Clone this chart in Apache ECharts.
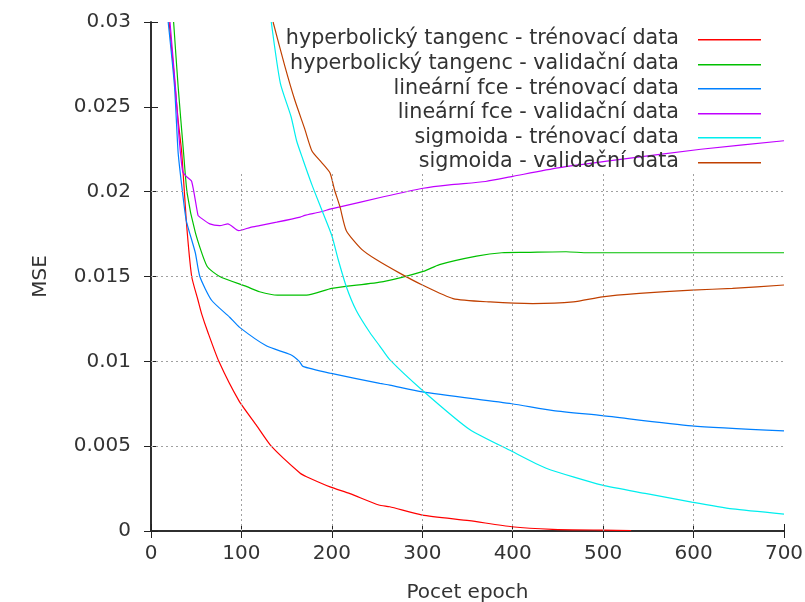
<!DOCTYPE html>
<html>
<head>
<meta charset="utf-8">
<script src="https://cdn.jsdelivr.net/npm/echarts@6/dist/echarts.min.js"></script>
<style>html,body{margin:0;padding:0;background:#fff;}#c{width:805px;height:602px;}</style>
</head>
<body>
<div id="c"></div>
<script>
// ---- data ----
const seriesNames = [
  'hyperbolický tangenc - trénovací data',
  'hyperbolický tangenc - validační data',
  'lineární fce - trénovací data',
  'lineární fce - validační data',
  'sigmoida - trénovací data',
  'sigmoida - validační data'
];
const seriesColors = ['#ff0000', '#00c000', '#0080ff', '#c000ff', '#00eeee', '#c04000'];

const xTicks = [0, 100, 200, 300, 400, 500, 600, 700];
const yTicks = [0, 0.005, 0.01, 0.015, 0.02, 0.025, 0.03];
const yTickLabels = ['0', '0.005', '0.01', '0.015', '0.02', '0.025', '0.03'];

const tanhTrainEpoch = [20,25,30,34,39,45,52,56,63,75,97,117,133,165,172,198,220,252,264,300,352,399,444,500,531];
const tanhTrainMSE   = [0.0300,0.0272,0.0242,0.0223,0.0183,0.0150,0.0136,0.0128,0.0117,0.0100,0.0077,0.0062,0.0050,0.0034,0.0032,0.0026,0.0022,0.00153,0.00143,0.00094,0.00061,0.00025,0.0001,0.00005,0.00003];

const tanhValEpoch = [25,30,36,40,49,62,76,106,120,140,172,200,257,301,319,360,388,415,459,483,700];
const tanhValMSE   = [0.0300,0.0262,0.0223,0.0199,0.0176,0.0156,0.0150,0.0144,0.0141,0.0139,0.0139,0.0143,0.0147,0.0153,0.0157,0.0162,0.0164,0.01642,0.01646,0.0164,0.0164];

const linTrainEpoch = [19,26,30,35,39,49,54,67,87,98,128,154,164,168,198,253,264,300,399,445,499,598,700];
const linTrainMSE   = [0.0300,0.0262,0.0223,0.0199,0.0183,0.0164,0.0150,0.0136,0.0126,0.0120,0.0109,0.0104,0.0100,0.0097,0.0093,0.0087,0.0086,0.0082,0.0075,0.0071,0.0068,0.0062,0.0059];

const linValEpoch = [21,27,31,35,39,45,52,54,65,76,85,97,110,120,139,165,170,187,200,209,257,301,330,370,400,450,504,608,700];
const linValMSE   = [0.0300,0.0262,0.0232,0.0212,0.0209,0.0206,0.0186,0.0185,0.0181,0.0180,0.0181,0.0177,0.0179,0.0180,0.0182,0.0185,0.0186,0.0188,0.0190,0.0191,0.0197,0.0202,0.0204,0.0206,0.0209,0.0214,0.0218,0.0225,0.0230];

const sigTrainEpoch = [133,143,155,161,168,178,189,200,207,216,227,242,253,264,300,352,399,437,499,548,598,643,700];
const sigTrainMSE   = [0.0300,0.0264,0.0244,0.0230,0.0219,0.0204,0.0189,0.0174,0.0160,0.0144,0.0130,0.0117,0.0109,0.0101,0.0083,0.0060,0.0047,0.0037,0.0027,0.0022,0.0017,0.0013,0.0010];

const sigValEpoch = [135,148,159,170,178,189,198,203,209,216,233,249,275,300,334,375,422,467,499,540,598,643,700];
const sigValMSE   = [0.0300,0.0274,0.0254,0.0237,0.0224,0.0217,0.0211,0.0201,0.0191,0.0177,0.0166,0.0160,0.0152,0.0145,0.0137,0.0135,0.0134,0.0135,0.0138,0.0140,0.0142,0.0143,0.0145];

const gridTopValue = 0.0211; // vertical grid lines stop below the key box

// ---- chart ----
const epochs = [tanhTrainEpoch, tanhValEpoch, linTrainEpoch, linValEpoch, sigTrainEpoch, sigValEpoch];
const mses = [tanhTrainMSE, tanhValMSE, linTrainMSE, linValMSE, sigTrainMSE, sigValMSE];
const zip = (xs, ys) => xs.map((x, i) => [x, ys[i]]);

const FONT = 'DejaVu Sans';
const TXT = '#333';

const gridLines = [];
yTicks.filter(v => v > 0 && v < gridTopValue).forEach(v => {
  gridLines.push([{coord: [xTicks[0], v]}, {coord: [xTicks[xTicks.length - 1], v]}]);
});
xTicks.slice(1, -1).forEach(v => {
  gridLines.push([{coord: [v, 0]}, {coord: [v, gridTopValue]}]);
});

const series = [{
  type: 'line', name: '_grid', data: [], z: 1, silent: true,
  markLine: {
    silent: true, symbol: ['none', 'none'], animation: false,
    label: {show: false},
    lineStyle: {color: '#a0a0a0', type: [2, 3], width: 1},
    data: gridLines
  }
}];
seriesNames.forEach((n, i) => {
  series.push({
    type: 'line', name: n, data: zip(epochs[i], mses[i]),
    showSymbol: false, symbol: 'none', z: 3,
    smooth: 0.2,
    lineStyle: {color: seriesColors[i], width: 1.2},
    itemStyle: {color: seriesColors[i]},
    animation: false
  });
});

const graphic = [];
seriesNames.forEach((n, i) => {
  const y = 39 + i * 24.6;
  graphic.push({
    id: 'lt' + i, type: 'text', x: 679, y: y, z: 10,
    style: {text: n, fill: TXT, font: '20.7px "' + FONT + '"', textAlign: 'right', textVerticalAlign: 'middle'}
  });
  graphic.push({
    id: 'll' + i, type: 'rect', z: 10,
    shape: {x: 698, y: Math.round(y), width: 63, height: 1.5},
    style: {fill: seriesColors[i]}
  });
});

const axisCommon = {
  min: 0, axisLine: {show: true, lineStyle: {color: '#222', width: 1.5}},
  axisTick: {show: true, inside: true, length: 7, lineStyle: {color: '#222', width: 1}},
  splitLine: {show: false}
};

const option = {
  animation: false,
  backgroundColor: '#fff',
  grid: {left: 151, right: 21, top: 22, bottom: 71, containLabel: false, outerBoundsMode: 'none'},
  graphic: graphic,
  xAxis: [
    Object.assign({}, axisCommon, {
      type: 'value', max: 700, interval: 100, position: 'bottom',
      name: 'Pocet epoch', nameLocation: 'middle', nameGap: 52,
      nameTextStyle: {fontFamily: FONT, fontSize: 20, color: TXT},
      axisLabel: {fontFamily: FONT, fontSize: 20, color: TXT, margin: 13}
    }),
    Object.assign({}, axisCommon, {
      type: 'value', max: 700, interval: 100, position: 'top',
      axisLabel: {show: false}
    })
  ],
  yAxis: [
    Object.assign({}, axisCommon, {
      type: 'value', max: 0.03, interval: 0.005, position: 'left',
      name: 'MSE', nameLocation: 'middle', nameGap: 100, nameRotate: 90,
      nameTextStyle: {fontFamily: FONT, fontSize: 20, color: TXT},
      axisLabel: {fontFamily: FONT, fontSize: 20, color: TXT, margin: 20,
        formatter: v => { const k = yTicks.findIndex(t => Math.abs(t - v) < 1e-9); return k >= 0 ? yTickLabels[k] : ''; }}
    }),
    Object.assign({}, axisCommon, {
      type: 'value', max: 0.03, interval: 0.005, position: 'right',
      axisLabel: {show: false}
    })
  ],
  series: series
};

const chart = echarts.init(document.getElementById('c'), null, {renderer: 'canvas'});
chart.setOption(option);
</script>
</body>
</html>
